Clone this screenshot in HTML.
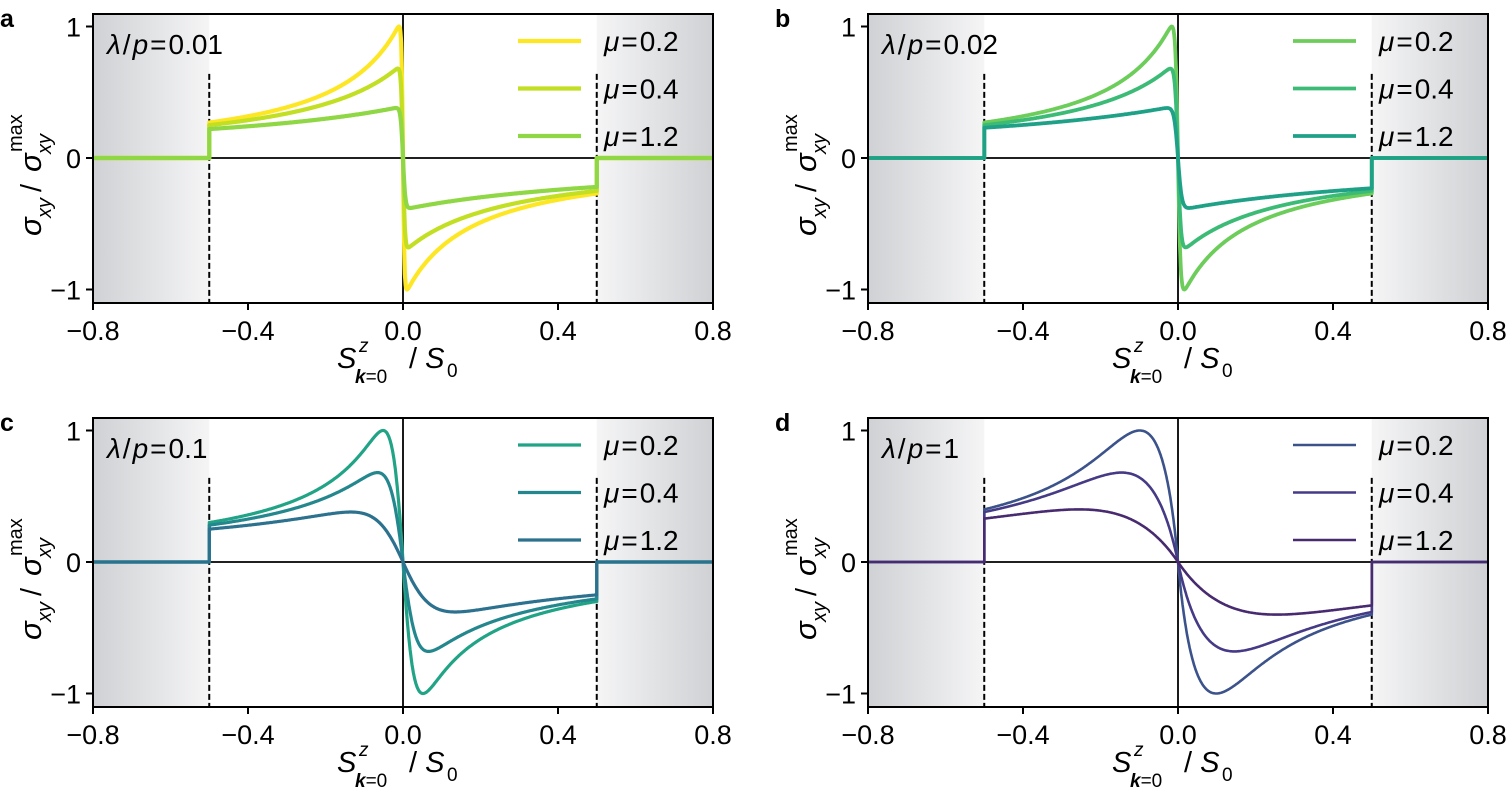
<!DOCTYPE html><html><head><meta charset="utf-8"><style>
body{margin:0;background:#fff}
svg{display:block;font-family:"Liberation Sans",sans-serif}
</style></head><body>
<svg id="s" width="1508" height="803" viewBox="0 0 1508 803" xmlns="http://www.w3.org/2000/svg">
<defs>
<linearGradient id="gl" x1="0" x2="1" y1="0" y2="0"><stop offset="0" stop-color="#cfd1d4"/><stop offset="1" stop-color="#f5f5f6"/></linearGradient>
<linearGradient id="gr" x1="1" x2="0" y1="0" y2="0"><stop offset="0" stop-color="#cfd1d4"/><stop offset="1" stop-color="#f5f5f6"/></linearGradient>
</defs>
</svg>
<script>
const svg=document.getElementById('s');let out='';
const panels=[
 {L:93,T:14,lab:'a',lam:'0.01',lw:4.2,cols:['#fde725','#c2df23','#8fd744'],
  cur:[[1,0.004,0.27],[0.68,0.005,0.25],[0.38,0.006,0.22]]},
 {L:868,T:14,lab:'b',lam:'0.02',lw:3.8,cols:['#6ccd5a','#3bbb75','#1fa187'],
  cur:[[1,0.007,0.27],[0.68,0.008,0.25],[0.38,0.01,0.23]]},
 {L:93,T:418,lab:'c',lam:'0.1',lw:3.2,cols:['#21a486','#24878e','#2c718e'],
  cur:[[1,0.035,0.3],[0.68,0.04,0.28],[0.38,0.08,0.25]]},
 {L:868,T:418,lab:'d',lam:'1',lw:2.6,cols:['#3b528b','#453a85','#472a6f'],
  cur:[[1,0.11,0.4],[0.68,0.15,0.38],[0.4,0.24,0.33]]}
];
function g(s,w,c){return Math.tanh(s/w)/(1+s/c)}
function norm(w,c){let m=0;for(let i=1;i<=2000;i++){const v=g(i*0.5/2000,w,c);if(v>m)m=v;}return m}
function solveC(w,P,end){let lo=0.001,hi=100;for(let k=0;k<60;k++){const c=Math.sqrt(lo*hi);const e=P*g(0.5,w,c)/norm(w,c);if(e<end)lo=c;else hi=c;}return Math.sqrt(lo*hi)}
panels.forEach(p=>{
 const W=620,H=289,L=p.L,T=p.T,R=L+W,B=T+H;
 const X=v=>L+(v+0.8)/1.6*W, y0=T+144, Y=v=>y0-v*131.5;
 out+=`<rect x="${L}" y="${T}" width="${X(-0.5)-L}" height="${H}" fill="url(#gl)"/>`;
 out+=`<rect x="${X(0.5)}" y="${T}" width="${R-X(0.5)}" height="${H}" fill="url(#gr)"/>`;
 out+=`<line x1="${L}" x2="${R}" y1="${y0}" y2="${y0}" stroke="#000" stroke-width="1.8"/>`;
 out+=`<line x1="${X(0)}" x2="${X(0)}" y1="${T}" y2="${B}" stroke="#000" stroke-width="1.8"/>`;
 [-0.5,0.5].forEach(v=>out+=`<line x1="${X(v)}" x2="${X(v)}" y1="${Y(0.64)}" y2="${B}" stroke="#000" stroke-width="2" stroke-dasharray="6,3"/>`);
 p.cur.forEach((cv,i)=>{
  const [P,w,end]=cv;const c=solveC(w,P,end);const n=norm(w,c);
  let pts=[];
  pts.push([-0.8,0],[-0.5,0]);
  for(let k=0;k<=600;k++){const s=-0.5+k/600;pts.push([s,-Math.sign(s)*P*g(Math.abs(s),w,c)/n]);}
  pts.push([0.5,0],[0.8,0]);
  const d=pts.map((q,j)=>(j?'L':'M')+X(q[0]).toFixed(1)+','+Y(q[1]).toFixed(1)).join('');
  out+=`<path d="${d}" fill="none" stroke="${p.cols[i]}" stroke-width="${p.lw}" stroke-linejoin="round"/>`;
  const ly=T+27+i*47.5;
  out+=`<line x1="${L+425}" x2="${L+488}" y1="${ly}" y2="${ly}" stroke="${p.cols[i]}" stroke-width="${p.lw}"/>`;
  out+=`<text x="${L+511}" y="${ly+10}" font-size="28"><tspan font-style="italic">μ</tspan><tspan dx="2">=</tspan><tspan dx="2">${['0.2','0.4','1.2'][i]}</tspan></text>`;
 });
 out+=`<rect x="${L}" y="${T}" width="${W}" height="${H}" fill="none" stroke="#000" stroke-width="2"/>`;
 [[-0.8,'−0.8'],[-0.4,'−0.4'],[0,'0.0'],[0.4,'0.4'],[0.8,'0.8']].forEach(t=>{
  out+=`<line x1="${X(t[0])}" x2="${X(t[0])}" y1="${B}" y2="${B+7}" stroke="#000" stroke-width="2"/>`;
  out+=`<text x="${X(t[0])}" y="${B+37}" font-size="27" text-anchor="middle">${t[1]}</text>`;
 });
 [[1,'1'],[0,'0'],[-1,'−1']].forEach(t=>{
  out+=`<line x1="${L-7}" x2="${L}" y1="${Y(t[0])}" y2="${Y(t[0])}" stroke="#000" stroke-width="2"/>`;
  out+=`<text x="${L-12}" y="${Y(t[0])+10}" font-size="27" text-anchor="end">${t[1]}</text>`;
 });
 out+=`<text x="${L-93}" y="${T+13}" font-size="25" font-weight="bold">${p.lab}</text>`;
 out+=`<text x="${L+14}" y="${T+40}" font-size="28"><tspan font-style="italic">λ</tspan><tspan dx="2">/</tspan><tspan dx="2" font-style="italic">p</tspan><tspan dx="2">=</tspan><tspan dx="2">${p.lam}</tspan></text>`;
 const cx=X(0);
 out+=`<text x="${cx-66}" y="${B+65}" font-size="29" font-style="italic">S</text><text x="${cx-44}" y="${B+49}" font-size="19" font-style="italic">z</text><text x="${cx-48}" y="${B+80}" font-size="19"><tspan font-weight="bold" font-style="italic">k</tspan>=0</text><text x="${cx+6}" y="${B+65}" font-size="29">/ <tspan font-style="italic">S</tspan></text><text x="${cx+44}" y="${B+74}" font-size="19">0</text>`;
 out+=`<g transform="translate(${L-52},${y0}) rotate(-90)"><text x="-78" y="0" font-size="31" font-style="italic">σ</text><text x="-60" y="10" font-size="20" font-style="italic">xy</text><text x="-34" y="0" font-size="29">/</text><text x="-14" y="0" font-size="31" font-style="italic">σ</text><text x="4" y="10" font-size="20" font-style="italic">xy</text><text x="6" y="-19" font-size="20">max</text></g>`;
});
svg.insertAdjacentHTML('beforeend',out);
</script>
</body></html>
